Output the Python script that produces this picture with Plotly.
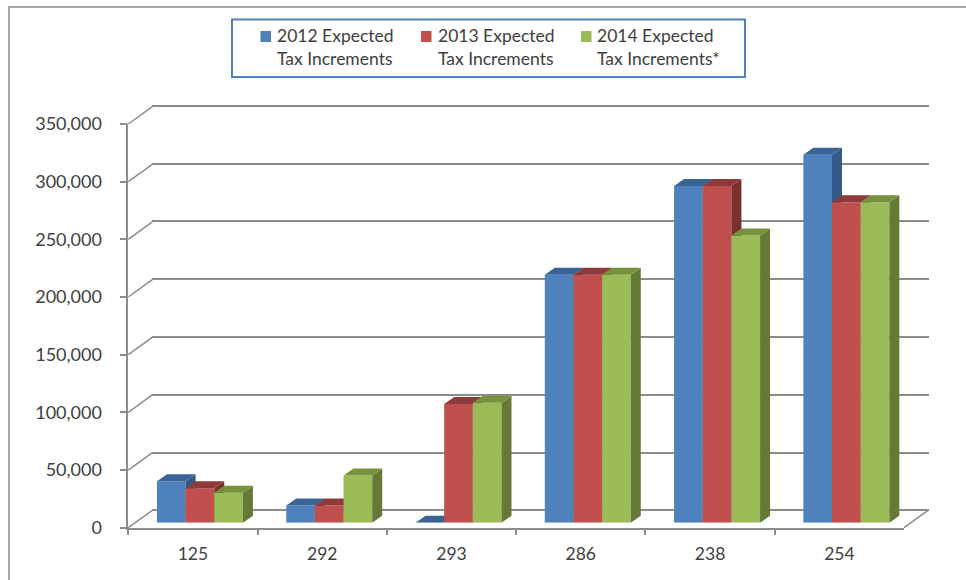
import plotly.graph_objects as go

# Chart data
tax_codes = ["125", "292", "293", "286", "238", "254"]
tick_values = [0, 50000, 100000, 150000, 200000, 250000, 300000, 350000]
expected_2012 = [36000, 15000, 0, 215000, 292000, 319000]
expected_2013 = [30000, 15000, 103000, 215000, 292000, 278000]
expected_2014 = [26000, 41000, 104000, 215000, 249000, 278000]
legend_labels = ["2012 Expected<br>Tax Increments",
                 "2013 Expected<br>Tax Increments",
                 "2014 Expected<br>Tax Increments*"]

WIDTH, HEIGHT = 966, 580
FONT = "Lato"
TEXT = "#404040"
AXIS = "#8c8c8c"

# Pixel boxes of the depth planes: (left, right, bottom, top)
FRONT = (128.3, 904.0, 527.7, 124.0)
BACK = (152.3, 929.3, 510.3, 105.7)
BARS = (135.3, 911.0, 522.8, 119.1)

PX_X = 6 / (FRONT[1] - FRONT[0])             # axis units per pixel
PX_Y = 350000 / (FRONT[2] - FRONT[3])
BAR_DX, BAR_DY = 10 * PX_X, 7 * PX_Y         # extrusion depth of a bar
SLANT_DX, SLANT_DY = 24 * PX_X, 17.4 * PX_Y  # wall-to-axis offset
BAR_W = 0.2217
PAD = 4                                      # spare pixels so no plane clips its edge lines


def dom_x(box):
    return [box[0] / WIDTH, box[1] / WIDTH]


def dom_y(box):
    return [1 - box[2] / HEIGHT, 1 - box[3] / HEIGHT]


def polygons(shapes):
    xs, ys = [], []
    for pts in shapes:
        xs += [p[0] for p in pts] + [pts[0][0], None]
        ys += [p[1] for p in pts] + [pts[0][1], None]
    return xs, ys


fig = go.Figure()

# Slanted lines joining the front axes to the back wall
slant_x, slant_y = [], []
for v in tick_values:
    slant_x += [-0.5, -0.5 + SLANT_DX, None]
    slant_y += [v, v + SLANT_DY, None]
slant_x += [5.5, 5.5 + SLANT_DX, None]
slant_y += [0, SLANT_DY, None]
fig.add_trace(go.Scatter(x=slant_x, y=slant_y, mode="lines", xaxis="x", yaxis="y",
                         line=dict(color=AXIS, width=1.5),
                         showlegend=False, hoverinfo="skip"))

# Back wall gridlines
fig.add_trace(go.Scatter(x=[0], y=[0], mode="markers", opacity=0, xaxis="x2", yaxis="y2",
                         showlegend=False, hoverinfo="skip"))

# Carrier for the labelled front axes
fig.add_trace(go.Scatter(x=tax_codes, y=[0] * 6, mode="markers", opacity=0,
                         xaxis="x3", yaxis="y3", showlegend=False, hoverinfo="skip"))

series = [
    (legend_labels[0], expected_2012, "#4f81bd", "#345a88", "#3b6496", "x4", "y4", -0.3325),
    (legend_labels[1], expected_2013, "#c0504d", "#7a3030", "#8f3a3a", "x5", "y5", -0.1108),
    (legend_labels[2], expected_2014, "#9bbb59", "#667a38", "#76923c", "x6", "y6", 0.1108),
]

for name, values, face, side, top, xa, ya, offset in series:
    idx = list(range(len(values)))
    fig.add_trace(go.Bar(x=idx, y=values, name=name, width=BAR_W, offset=offset,
                         marker=dict(color=face, line=dict(width=0)),
                         xaxis=xa, yaxis=ya, showlegend=False, hoverinfo="y"))
    side_faces, top_faces = [], []
    for i, v in zip(idx, values):
        xl = i + offset
        xr = xl + BAR_W
        side_faces.append([(xr, 0), (xr + BAR_DX, BAR_DY), (xr + BAR_DX, v + BAR_DY), (xr, v)])
        top_faces.append([(xl, v), (xl + BAR_DX, v + BAR_DY), (xr + BAR_DX, v + BAR_DY), (xr, v)])
    for faces, colour in ((side_faces, side), (top_faces, top)):
        px, py = polygons(faces)
        fig.add_trace(go.Scatter(x=px, y=py, mode="lines", fill="toself", fillcolor=colour,
                                 line=dict(width=0, color=colour),
                                 xaxis=xa, yaxis=ya, showlegend=False, hoverinfo="skip"))

hidden = dict(visible=False, range=[-0.5, 5.5], fixedrange=True)
hidden_y = dict(visible=False, range=[0, 350000], fixedrange=True)

# Legend panel: box, colour keys and two-line labels
shapes = [
    dict(type="rect", xref="paper", yref="paper", x0=9 / WIDTH, x1=1.02, y0=-0.02, y1=1 - 7 / HEIGHT,
         line=dict(color="#8c8c8c", width=1.5), fillcolor="rgba(0,0,0,0)", layer="below"),
    dict(type="rect", xref="paper", yref="paper", x0=232 / WIDTH, x1=745 / WIDTH,
         y0=1 - 77 / HEIGHT, y1=1 - 19.5 / HEIGHT,
         line=dict(color="#4f81bd", width=2), fillcolor="white"),
]
annotations = []
for (label, _, face, *_rest), key_x, text_x in zip(series, (260.5, 421, 581), (275, 435.5, 595)):
    shapes.append(dict(type="rect", xref="paper", yref="paper",
                       x0=key_x / WIDTH, x1=(key_x + 10.5) / WIDTH,
                       y0=1 - 42 / HEIGHT, y1=1 - 31 / HEIGHT,
                       line=dict(width=0), fillcolor=face))
    annotations.append(dict(text=label, xref="paper", yref="paper", x=text_x / WIDTH,
                            y=1 - 47.5 / HEIGHT, xanchor="left", yanchor="middle", align="left",
                            showarrow=False, font=dict(family=FONT, size=17.5, color=TEXT)))

fig.update_layout(
    width=WIDTH,
    height=HEIGHT,
    autosize=False,
    margin=dict(l=0, r=0, t=0, b=0, autoexpand=False),
    paper_bgcolor="white",
    plot_bgcolor="rgba(0,0,0,0)",
    showlegend=False,
    font=dict(family=FONT, size=17, color=TEXT),
    # Plane carrying the slanted joins, spanning front axes and back wall
    xaxis=dict(domain=[(FRONT[0] - PAD) / WIDTH, (BACK[1] + PAD) / WIDTH], anchor="y", visible=False,
               range=[-0.5 - PAD * PX_X, 5.5 + SLANT_DX + (BACK[1] + PAD - FRONT[1] - 24) * PX_X]),
    yaxis=dict(domain=[1 - (FRONT[2] + PAD) / HEIGHT, 1 - (BACK[3] - PAD) / HEIGHT], anchor="x", visible=False,
               range=[-PAD * PX_Y, 350000 + SLANT_DY + (FRONT[3] - 17.4 - BACK[3] + PAD) * PX_Y]),
    # Back wall with the horizontal gridlines
    xaxis2=dict(domain=dom_x(BACK), range=[-0.5, 5.5], visible=False, anchor="y2"),
    yaxis2=dict(domain=[1 - (BACK[2] + PAD) / HEIGHT, 1 - (BACK[3] - PAD) / HEIGHT],
                range=[-PAD * (350000 / (BACK[2] - BACK[3])), 350000 + PAD * (350000 / (BACK[2] - BACK[3]))],
                anchor="x2", tickvals=tick_values,
                showgrid=True, gridcolor=AXIS, gridwidth=1.5, zeroline=False,
                showticklabels=False, ticks="", showline=False),
    # Front axes with ticks and labels
    xaxis3=dict(domain=dom_x(FRONT), anchor="y3", type="category", categoryorder="array",
                categoryarray=tax_codes, range=[-0.5, 5.5], tickson="boundaries",
                ticks="outside", ticklen=6, tickwidth=1.5, tickcolor=AXIS,
                showline=True, linecolor=AXIS, linewidth=1.5, showgrid=False,
                ticklabelstandoff=10, tickfont=dict(family=FONT, size=17.5, color=TEXT)),
    yaxis3=dict(domain=dom_y(FRONT), anchor="x3", range=[0, 350000], tickvals=tick_values,
                tickformat=",d", ticks="outside", ticklen=7, tickwidth=1.5, tickcolor=AXIS,
                showline=True, linecolor=AXIS, linewidth=1.5, showgrid=False, zeroline=False,
                ticklabelstandoff=14, tickfont=dict(family=FONT, size=18, color=TEXT)),
    # One plane per series, stacked so later bars hide the sides of earlier ones
    xaxis4=dict(domain=dom_x(BARS), anchor="y4", **hidden),
    yaxis4=dict(domain=dom_y(BARS), anchor="x4", **hidden_y),
    xaxis5=dict(overlaying="x4", anchor="y5", **hidden),
    yaxis5=dict(overlaying="y4", anchor="x5", **hidden_y),
    xaxis6=dict(overlaying="x4", anchor="y6", **hidden),
    yaxis6=dict(overlaying="y4", anchor="x6", **hidden_y),
    shapes=shapes,
    annotations=annotations,
)

fig.write_html("out.html", config=dict(displayModeBar=False))
